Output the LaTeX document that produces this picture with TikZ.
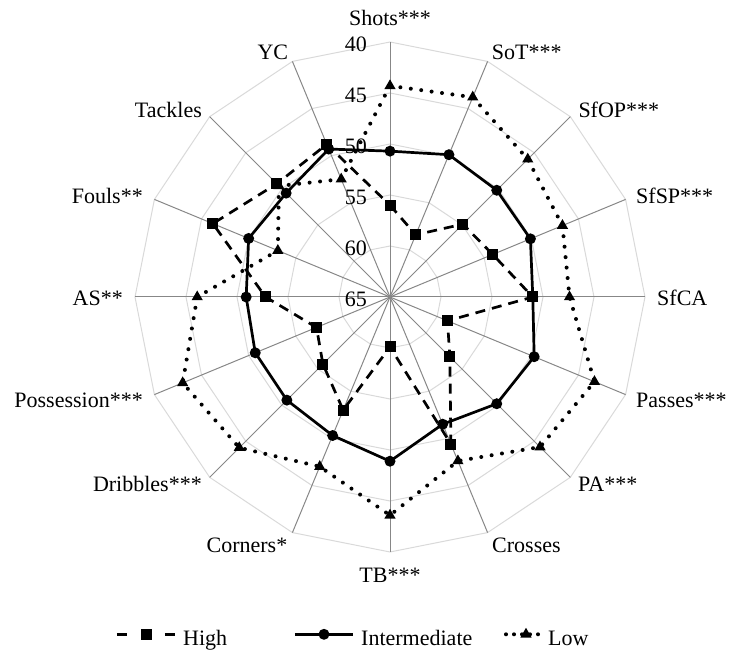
\documentclass[tikz,border=0pt]{standalone}
\usepackage{fontspec}
\setmainfont{Liberation Serif}
\usetikzlibrary{shapes.geometric}

\begin{document}
\begin{tikzpicture}[x=1pt, y=1pt,
  every node/.style = {font=\fontsize{22}{26}\selectfont, inner sep=0pt},
  ring/.style = {draw=black!15, line width=1pt},
  spoke/.style = {draw=black!47, line width=1pt},
  high/.style = {line width=2.7pt, dash pattern=on 10pt off 7pt},
  mid/.style = {line width=2.7pt},
  low/.style = {line width=4pt, line cap=round, dash pattern=on 0pt off 10.5pt},
  sqmark/.style = {rectangle, fill=black, minimum size=11pt},
  dotmark/.style = {circle, fill=black, minimum size=11pt},
  trimark/.style = {regular polygon, regular polygon sides=3, fill=black, minimum size=13pt}]
  \useasboundingbox (-390,-355) rectangle (340,297);
  % grid
  \coordinate (o) at (0,0);
  \foreach \r in {51,102,153,204,255}
    \draw[ring] (90:\r) \foreach \i in {1,...,15} {-- ({90-22.5*\i}:\r)} -- cycle;
  \foreach \i in {0,...,15} {
    \coordinate (ax\i) at ({90-22.5*\i}:255);
    \draw[spoke] (o) -- (ax\i);
  }
  \foreach \v [count=\k from 0] in {65,60,55,50,45,40}
    \node[anchor=base east] (num\v) at (-23,51*\k-9.6) {\v};
  % axis labels
  \foreach \i/\x/\y/\a/\t in {0/0/271.5/base/Shots***, 1/101.7/237.5/base west/SoT***,
      2/188.3/179.5/base west/SfOP***, 3/246/93.5/base west/SfSP***,
      4/267/-8.5/base west/SfCA, 5/246/-110.5/base west/Passes***,
      6/188/-195/base west/PA***, 7/102/-255.5/base west/Crosses,
      8/0/-285.5/base/TB***, 9/-102.5/-255.5/base east/Corners*,
      10/-188/-195/base east/Dribbles***, 11/-247/-110.5/base east/Possession***,
      12/-267/-8.5/base east/AS**, 13/-247/93.5/base east/Fouls**,
      14/-188/179.5/base east/Tackles, 15/-101.7/237.5/base east/YC}
    \node[anchor=\a] (lab\i) at (\x,\y) {\t};
  % data
  \foreach \v [count=\i from 0] in {56.0,58.4,54.9,54.1,51.0,58.9,56.7,49.4,60.1,53.0,55.7,57.2,52.8,46.2,49.3,48.8}
    \coordinate (hi\i) at ({90-22.5*\i}:{(65-\v)*10.2});
  \foreach \v [count=\i from 0] in {50.7,49.9,50.2,50.1,51.0,49.7,50.2,51.5,48.9,50.3,50.7,50.7,50.9,50.0,50.6,49.3}
    \coordinate (md\i) at ({90-22.5*\i}:{(65-\v)*10.2});
  \foreach \v [count=\i from 0] in {44.3,43.8,45.9,46.7,47.4,43.3,44.2,47.6,43.6,47.0,44.1,43.0,46.1,53.1,49.6,52.5}
    \coordinate (lo\i) at ({90-22.5*\i}:{(65-\v)*10.2});
  \draw[low] (lo0) \foreach \i in {1,...,15} {-- (lo\i)} -- cycle;
  \foreach \i in {0,...,15} \node[trimark] at (lo\i) {};
  \draw[high] (hi0) \foreach \i in {1,...,15} {-- (hi\i)} -- cycle;
  \foreach \i in {0,...,15} \node[sqmark] at (hi\i) {};
  \draw[mid] (md0) \foreach \i in {1,...,15} {-- (md\i)} -- cycle;
  \foreach \i in {0,...,15} \node[dotmark] at (md\i) {};
  % legend
  \draw[high, dash pattern=on 10pt off 38pt] (-273,-337.3) -- (-213,-337.3);
  \node[sqmark] (keyhigh) at (-243,-337.3) {};
  \node[anchor=base west] (txthigh) at (-207,-348.7) {High};
  \draw[mid] (-95,-337.3) -- (-37,-337.3);
  \node[dotmark] (keymid) at (-66,-337.3) {};
  \node[anchor=base west] (txtmid) at (-29,-348.7) {Intermediate};
  \draw[low, dash pattern=on 0pt off 8pt] (116,-337.3) -- (154,-337.3);
  \node[trimark] (keylow) at (136,-337.3) {};
  \node[anchor=base west] (txtlow) at (158,-348.7) {Low};
\end{tikzpicture}
\end{document}
